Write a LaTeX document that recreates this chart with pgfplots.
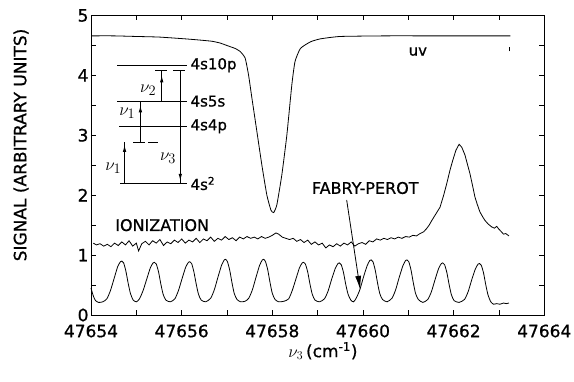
\documentclass[border=0pt]{standalone}
\usepackage{fontspec}
\setmainfont{DejaVu Sans}[FakeBold=0.8]
\usepackage{pgfplots}
\pgfplotsset{compat=1.18}
\usetikzlibrary{arrows.meta}
\newcommand\fs[1]{\fontsize{#1}{#1}\selectfont}
\begin{document}
\begin{tikzpicture}
\useasboundingbox (-91pt,-66pt) rectangle (483pt,315pt);
\begin{axis}[
  at={(0pt,0pt)}, anchor=south west,
  scale only axis, width=453.3pt, height=299.5pt,
  xmin=47654, xmax=47664, ymin=0, ymax=5,
  scaled x ticks=false,
  xtick={47654,47655,47656,47657,47658,47659,47660,47661,47662,47663,47664},
  xticklabels={47654,,47656,,47658,,47660,,47662,,47664},
  ytick={0,0.5,1,1.5,2,2.5,3,3.5,4,4.5,5},
  yticklabels={0,,1,,2,,3,,4,,5},
  tick align=inside, major tick length=5pt,
  tick style={black, line width=0.8pt},
  axis line style={line width=0.9pt},
  ticklabel style={font=\fs{17}},
  xticklabel style={anchor=center, yshift=-16pt},
  yticklabel style={xshift=1pt},
  clip=false,
]
% UV
\addplot[black, line width=0.8pt, mark=none, smooth, tension=0.3] coordinates {
(47654.02,4.66) (47654.5,4.66) (47655.0,4.65) (47655.5,4.64) (47656.08,4.61)
(47656.40,4.59) (47656.67,4.57) (47656.85,4.54) (47656.96,4.51) (47657.07,4.48)
(47657.18,4.45) (47657.29,4.40) (47657.40,4.29) (47657.475,4.01) (47657.55,3.62)
(47657.66,3.06) (47657.77,2.50) (47657.88,2.00) (47657.97,1.75) (47658.03,1.71)
(47658.10,1.84) (47658.21,2.34) (47658.32,3.00) (47658.43,3.84) (47658.50,4.23)
(47658.62,4.45) (47658.84,4.56) (47659.06,4.61) (47659.50,4.65) (47660.5,4.66)
(47661.5,4.66) (47662.5,4.66) (47663.25,4.66)
};
% Ionization
\addplot[black, line width=0.8pt, mark=none] coordinates {
(47654.05,1.20) (47654.12,1.17) (47654.20,1.19) (47654.28,1.15) (47654.36,1.18)
(47654.44,1.14) (47654.52,1.20) (47654.60,1.16) (47654.68,1.22) (47654.76,1.17)
(47654.84,1.24) (47654.92,1.15) (47655.00,1.20) (47655.05,1.07) (47655.12,1.19)
(47655.20,1.23) (47655.28,1.17) (47655.36,1.24) (47655.44,1.20) (47655.52,1.26)
(47655.60,1.16) (47655.68,1.22) (47655.76,1.19) (47655.84,1.25) (47655.92,1.21)
(47656.00,1.27) (47656.08,1.20) (47656.16,1.25) (47656.24,1.22) (47656.32,1.28)
(47656.40,1.21) (47656.48,1.27) (47656.56,1.24) (47656.64,1.30) (47656.72,1.23)
(47656.80,1.28) (47656.88,1.25) (47656.96,1.31) (47657.04,1.26) (47657.12,1.29)
(47657.20,1.24) (47657.28,1.30) (47657.36,1.27) (47657.44,1.31) (47657.52,1.28)
(47657.60,1.30) (47657.68,1.27) (47657.76,1.31) (47657.84,1.28) (47657.92,1.30)
(47658.00,1.33) (47658.08,1.37) (47658.14,1.35) (47658.22,1.30) (47658.30,1.28)
(47658.38,1.26) (47658.46,1.28) (47658.54,1.23) (47658.62,1.26) (47658.70,1.21)
(47658.78,1.25) (47658.86,1.18) (47658.94,1.22) (47659.02,1.17) (47659.10,1.20)
(47659.18,1.12) (47659.26,1.17) (47659.34,1.14) (47659.42,1.19) (47659.50,1.15)
(47659.58,1.20) (47659.66,1.17) (47659.74,1.22) (47659.82,1.15) (47659.90,1.19)
(47659.98,1.21) (47660.06,1.18) (47660.14,1.24) (47660.22,1.22) (47660.30,1.27)
(47660.38,1.25) (47660.46,1.28) (47660.54,1.26) (47660.62,1.29) (47660.70,1.27)
(47660.78,1.30) (47660.86,1.28) (47660.94,1.31) (47661.02,1.30) (47661.10,1.33)
(47661.18,1.32) (47661.26,1.36) (47661.34,1.39) (47661.40,1.44) (47661.46,1.50)
(47661.52,1.58) (47661.61,1.69) (47661.70,1.80) (47661.78,2.00) (47661.85,2.20)
(47661.92,2.42) (47661.98,2.58) (47662.05,2.75) (47662.12,2.85) (47662.18,2.80)
(47662.25,2.67) (47662.31,2.50) (47662.36,2.36) (47662.42,2.15) (47662.47,1.97)
(47662.52,1.85) (47662.58,1.72) (47662.64,1.64) (47662.69,1.58) (47662.76,1.52)
(47662.84,1.47) (47662.90,1.45) (47662.95,1.48) (47662.99,1.44) (47663.04,1.40)
(47663.10,1.35) (47663.15,1.36) (47663.22,1.32)
};
% Fabry-Perot
\addplot[black, line width=0.8pt, mark=none, smooth, tension=0.4] coordinates {
(47654.00,0.45) (47654.05,0.32) (47654.10,0.24) (47654.17,0.21) (47654.26,0.22)
(47654.35,0.27) (47654.43,0.41) (47654.51,0.61) (47654.59,0.81) (47654.65,0.89) (47654.68,0.90)
(47654.72,0.87) (47654.77,0.73) (47654.82,0.53) (47654.87,0.36) (47654.93,0.25) (47655.00,0.22)
(47655.07,0.27) (47655.15,0.41) (47655.23,0.60) (47655.31,0.79) (47655.37,0.87) (47655.40,0.88)
(47655.44,0.85) (47655.49,0.72) (47655.54,0.52) (47655.59,0.35) (47655.65,0.25) (47655.75,0.22)
(47655.85,0.27) (47655.93,0.41) (47656.01,0.61) (47656.09,0.80) (47656.15,0.88) (47656.18,0.89)
(47656.22,0.86) (47656.27,0.72) (47656.32,0.52) (47656.37,0.35) (47656.43,0.25) (47656.53,0.22)
(47656.64,0.28) (47656.72,0.42) (47656.80,0.63) (47656.88,0.83) (47656.94,0.92) (47656.97,0.93)
(47657.01,0.89) (47657.06,0.75) (47657.11,0.54) (47657.16,0.36) (47657.22,0.26) (47657.30,0.22)
(47657.40,0.23)
(47657.48,0.28) (47657.56,0.42) (47657.64,0.63) (47657.72,0.83) (47657.78,0.92) (47657.81,0.93)
(47657.85,0.89) (47657.90,0.75) (47657.95,0.54) (47658.00,0.36) (47658.06,0.26) (47658.14,0.22)
(47658.26,0.23)
(47658.36,0.27) (47658.44,0.41) (47658.52,0.60) (47658.60,0.79) (47658.66,0.87) (47658.69,0.88)
(47658.73,0.85) (47658.78,0.72) (47658.83,0.52) (47658.88,0.35) (47658.94,0.25) (47659.04,0.22)
(47659.15,0.27) (47659.23,0.40) (47659.31,0.60) (47659.39,0.78) (47659.45,0.86) (47659.48,0.87)
(47659.52,0.84) (47659.57,0.71) (47659.62,0.51) (47659.67,0.35) (47659.73,0.25) (47659.79,0.22)
(47659.85,0.28) (47659.93,0.42) (47660.01,0.63) (47660.09,0.82) (47660.15,0.91) (47660.18,0.92)
(47660.22,0.89) (47660.27,0.75) (47660.32,0.54) (47660.37,0.36) (47660.43,0.26) (47660.53,0.22)
(47660.64,0.28) (47660.72,0.42) (47660.80,0.63) (47660.88,0.82) (47660.94,0.91) (47660.97,0.92)
(47661.01,0.89) (47661.06,0.75) (47661.11,0.54) (47661.16,0.36) (47661.22,0.26) (47661.32,0.21)
(47661.43,0.26) (47661.51,0.39) (47661.59,0.59) (47661.67,0.78) (47661.73,0.86) (47661.76,0.87)
(47661.80,0.84) (47661.85,0.71) (47661.90,0.51) (47661.95,0.34) (47662.01,0.24) (47662.12,0.21)
(47662.24,0.26) (47662.32,0.39) (47662.40,0.59) (47662.48,0.77) (47662.54,0.85) (47662.57,0.86)
(47662.61,0.83) (47662.66,0.70) (47662.71,0.50) (47662.76,0.33) (47662.82,0.22) (47662.88,0.18)
(47662.95,0.19) (47663.02,0.18) (47663.10,0.20) (47663.16,0.19) (47663.22,0.20)
};
% small mark at end of uv trace
\draw[line width=0.8pt] (axis cs:47663.22,4.40) -- (axis cs:47663.22,4.48);
% labels
\node[font=\fs{15}] at (axis cs:47661.21,4.40) {uv};
\node[font=\fs{16}] at (axis cs:47655.57,1.50) {IONIZATION};
\node[font=\fs{16}] at (axis cs:47660.05,2.12) {FABRY-PEROT};
\draw[line width=0.8pt, -{Latex[length=14pt,width=6pt]}] (axis cs:47659.64,1.92) -- (axis cs:47659.94,0.42);
% inset energy-level diagram
\begin{scope}[line width=0.8pt]
\draw (axis cs:47654.58,4.17) -- (axis cs:47656.12,4.17);
\draw (axis cs:47654.58,3.57) -- (axis cs:47656.12,3.57);
\draw (axis cs:47654.62,3.15) -- (axis cs:47656.12,3.15);
\draw (axis cs:47654.65,2.195) -- (axis cs:47656.12,2.195);
\draw[dash pattern=on 12pt off 3pt] (axis cs:47654.93,2.88) -- (axis cs:47655.48,2.88);
% caps
\draw (axis cs:47655.42,4.08) -- (axis cs:47655.68,4.08);
\draw (axis cs:47655.81,4.08) -- (axis cs:47656.08,4.08);
% nu1 lower
\draw[-{Latex[length=7pt,width=3.5pt]}] (axis cs:47654.74,2.195) -- (axis cs:47654.74,2.84);
\draw (axis cs:47654.74,2.80) -- (axis cs:47654.74,2.88);
% nu1 upper
\draw (axis cs:47655.09,2.88) -- (axis cs:47655.09,3.57);
\draw[-{Latex[length=7pt,width=3.5pt]}] (axis cs:47655.09,2.88) -- (axis cs:47655.09,3.50);
% nu2
\draw (axis cs:47655.56,3.57) -- (axis cs:47655.56,4.08);
\draw[-{Latex[length=7pt,width=3.5pt]}] (axis cs:47655.56,3.57) -- (axis cs:47655.56,4.00);
% nu3
\draw (axis cs:47655.97,4.08) -- (axis cs:47655.97,2.195);
\draw[-{Latex[length=7pt,width=3.5pt]}] (axis cs:47655.97,4.08) -- (axis cs:47655.97,2.24);
\end{scope}
\node[font=\fs{19}] at (axis cs:47654.49,2.45) {$\nu_1$};
\node[font=\fs{19}] at (axis cs:47654.80,3.37) {$\nu_1$};
\node[font=\fs{19}] at (axis cs:47655.26,3.75) {$\nu_2$};
\node[font=\fs{19}] at (axis cs:47655.70,2.62) {$\nu_3$};
\node[font=\fs{15}, anchor=west, inner sep=1pt] at (axis cs:47656.17,4.17) {4s10p};
\node[font=\fs{15}, anchor=west, inner sep=1pt] at (axis cs:47656.17,3.57) {4s5s};
\node[font=\fs{15}, anchor=west, inner sep=1pt] at (axis cs:47656.17,3.15) {4s4p};
\node[font=\fs{15}, anchor=west, inner sep=1pt] at (axis cs:47656.17,2.195) {4s\textsuperscript{2}};
\end{axis}
\node[rotate=90, font=\fs{17}] at (-70pt,170pt) {SIGNAL (ARBITRARY UNITS)};
\node[font=\fs{17}] at (232pt,-36pt) {$\nu_3$\,(cm\textsuperscript{-1})};
\end{tikzpicture}
\end{document}
